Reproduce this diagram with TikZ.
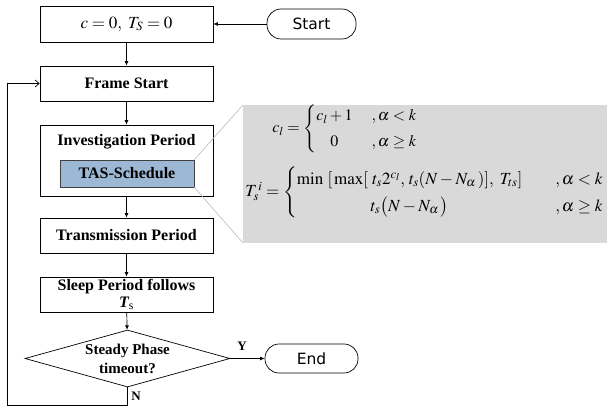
\documentclass[tikz,border=0pt]{standalone}
\usepackage{amsmath}
\usepackage{mathptmx}
\usepackage{fontspec}
\setmainfont{Liberation Serif}
\newfontfamily\termfont{DejaVu Sans}
\usetikzlibrary{arrows.meta,shapes.geometric}
\definecolor{tasblue}{RGB}{157,184,212}
\definecolor{panelgray}{RGB}{217,217,217}
\definecolor{guidegray}{RGB}{185,185,185}
\tikzset{lbl/.style={draw=none, fill=none, inner sep=1pt,
  font=\fontsize{13}{13}\selectfont\bfseries}}

\begin{document}
\begin{tikzpicture}[x=1pt, y=-1pt, >={Latex[length=4.5pt,width=4pt]},
  line width=0.7pt,
  box/.style={draw, minimum width=173pt, minimum height=35pt, inner sep=0pt,
    align=center, font=\fontsize{16}{18}\selectfont\bfseries},
  txt/.style={inner sep=0pt, align=center,
    font=\fontsize{16}{18}\selectfont\bfseries},
  term/.style={draw, rounded corners=14pt, minimum height=30pt, inner sep=0pt,
    font=\fontsize{15.5}{16}\selectfont\termfont},
  eqn/.style={inner sep=0pt, anchor=west, font=\fontsize{16}{18}\selectfont}]
  \useasboundingbox (0,0) rectangle (607,409);
  % formula panel
  \fill[panelgray] (243,105) rectangle (607,243);
  \node[eqn] (ceq) at (272,128.5) {$c_l = \left\{\renewcommand{\arraystretch}{1.45}
    \begin{array}{@{}c@{\hspace{19pt}}l@{}} c_l + 1 & ,\alpha < k\\
    0 & ,\alpha \ge k \end{array}\right.$};
  \node[eqn, font=\fontsize{17}{18}\selectfont] (teq) at (245,192.5)
    {$T_s^{\,i} = \left\{\renewcommand{\arraystretch}{1.5}
    \begin{array}{@{}c@{\hspace{33pt}}l@{}}
    \min\ [\,\max[\ t_s 2^{c_l},\, t_s(N-N_\alpha\,)],\ T_{ts}] & ,\alpha < k\\
    t_s\bigl(N-N_\alpha\,\bigr) & ,\alpha \ge k \end{array}\right.$};
  % flow chart
  \node[box, minimum height=36pt, font=\fontsize{17}{18}\selectfont]
    (init) at (126.5,24) {$c = 0,\ T_S = 0$};
  \node[term, minimum width=89pt] (start) at (311.5,24) {Start};
  \node[box] (frame) at (126.5,83.5) {Frame Start};
  \node[box, minimum height=71pt] (invest) at (126.5,160.5) {};
  \node[txt] (investtxt) at (126.5,142) {Investigation Period};
  \node[draw=black!75, fill=tasblue, minimum width=134pt, minimum height=27pt,
    inner sep=0pt, font=\fontsize{16}{18}\selectfont\bfseries]
    (tas) at (127,173.5) {TAS-Schedule};
  \node[box] (trans) at (126.5,235.5) {Transmission Period};
  \node[box] (sleep) at (126.5,294.5)
    {Sleep Period follows\\[-1pt]{\itshape T}\textsubscript{\normalfont s}};
  \node[diamond, draw, minimum width=205pt, minimum height=57pt, inner sep=0pt]
    (steady) at (127.5,358.5) {};
  \node[txt, font=\fontsize{15}{19}\selectfont\bfseries]
    (steadytxt) at (127.5,358.5) {Steady Phase\\timeout?};
  \node[term, minimum width=93pt, minimum height=29pt] (finish) at (311.5,358.5) {End};
  % guide lines to the panel
  \draw[guidegray, line width=0.6pt] (tas.north east) -- (243,105);
  \draw[guidegray, line width=0.6pt] (tas.south east) -- (243,243);
  % connectors
  \draw[->] (start) -- (init);
  \draw[->] (init) -- (frame);
  \draw[->] (frame) -- (invest);
  \draw[->] (invest) -- (trans);
  \draw[->] (trans) -- (sleep);
  \draw[->] (sleep) -- (steady);
  \draw[->] (steady) -- (finish);
  \node[lbl] (ylbl) at (242,346) {Y};
  \coordinate (loopa) at (127.5,405);
  \coordinate (loopb) at (7,405);
  \draw[-{Straight Barb[length=4pt,width=7pt]}] (steady.south) -- (loopa)
    -- (loopb) |- (frame.west);
  \node[lbl] (nlbl) at (136,396) {N};
\end{tikzpicture}
\end{document}
